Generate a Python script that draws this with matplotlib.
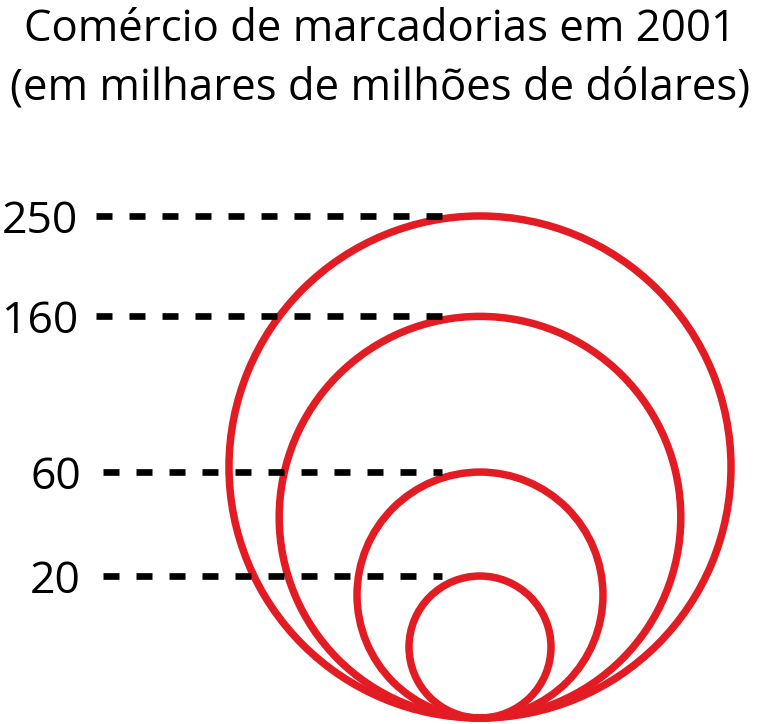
import numpy as np
import matplotlib.pyplot as plt
from matplotlib.patches import Circle

# Comércio de marcadorias em 2001 (milhares de milhões de dólares)
valores = [250, 160, 60, 20]
rotulos = ["250", "160", "60", "20"]
titulo_1 = "Comércio de marcadorias em 2001"
titulo_2 = "(em milhares de milhões de dólares)"

vermelho = "#e31b23"
k = 31.75  # px por unidade (diâmetro = sqrt(valor))
W, H = 761, 724

fig = plt.figure(figsize=(W / 100, H / 100), dpi=100)
ax = fig.add_axes([0, 0, 1, 1])
ax.set_xlim(-480 / k, (W - 480) / k)
ax.set_ylim(-6 / k, 718 / k)
ax.set_aspect("equal")
ax.axis("off")

for v, lab in zip(valores, rotulos):
    d = np.sqrt(v)
    ax.add_patch(Circle((0, d / 2), d / 2, fill=False, ec=vermelho, lw=5.4))
    x_txt = -(480 - 78) / k if len(lab) == 3 else -(480 - 81) / k
    x0 = x_txt + 18 / k if len(lab) == 3 else x_txt + 22 / k
    ax.plot([x0, -1.2], [d, d], color="black", lw=4.8,
            dashes=(2.4, 2.55), dash_capstyle="butt", zorder=3)
    ax.text(x_txt, d, lab, ha="right", va="center_baseline",
            fontsize=32, family="Open Sans")

fig.text(0.5, 1 - 30 / H, titulo_1, ha="center", va="center",
         fontsize=31.5, family="Open Sans")
fig.text(0.5, 1 - 88 / H, titulo_2, ha="center", va="center",
         fontsize=31.5, family="Open Sans")

fig.savefig("out.png", dpi=100)
